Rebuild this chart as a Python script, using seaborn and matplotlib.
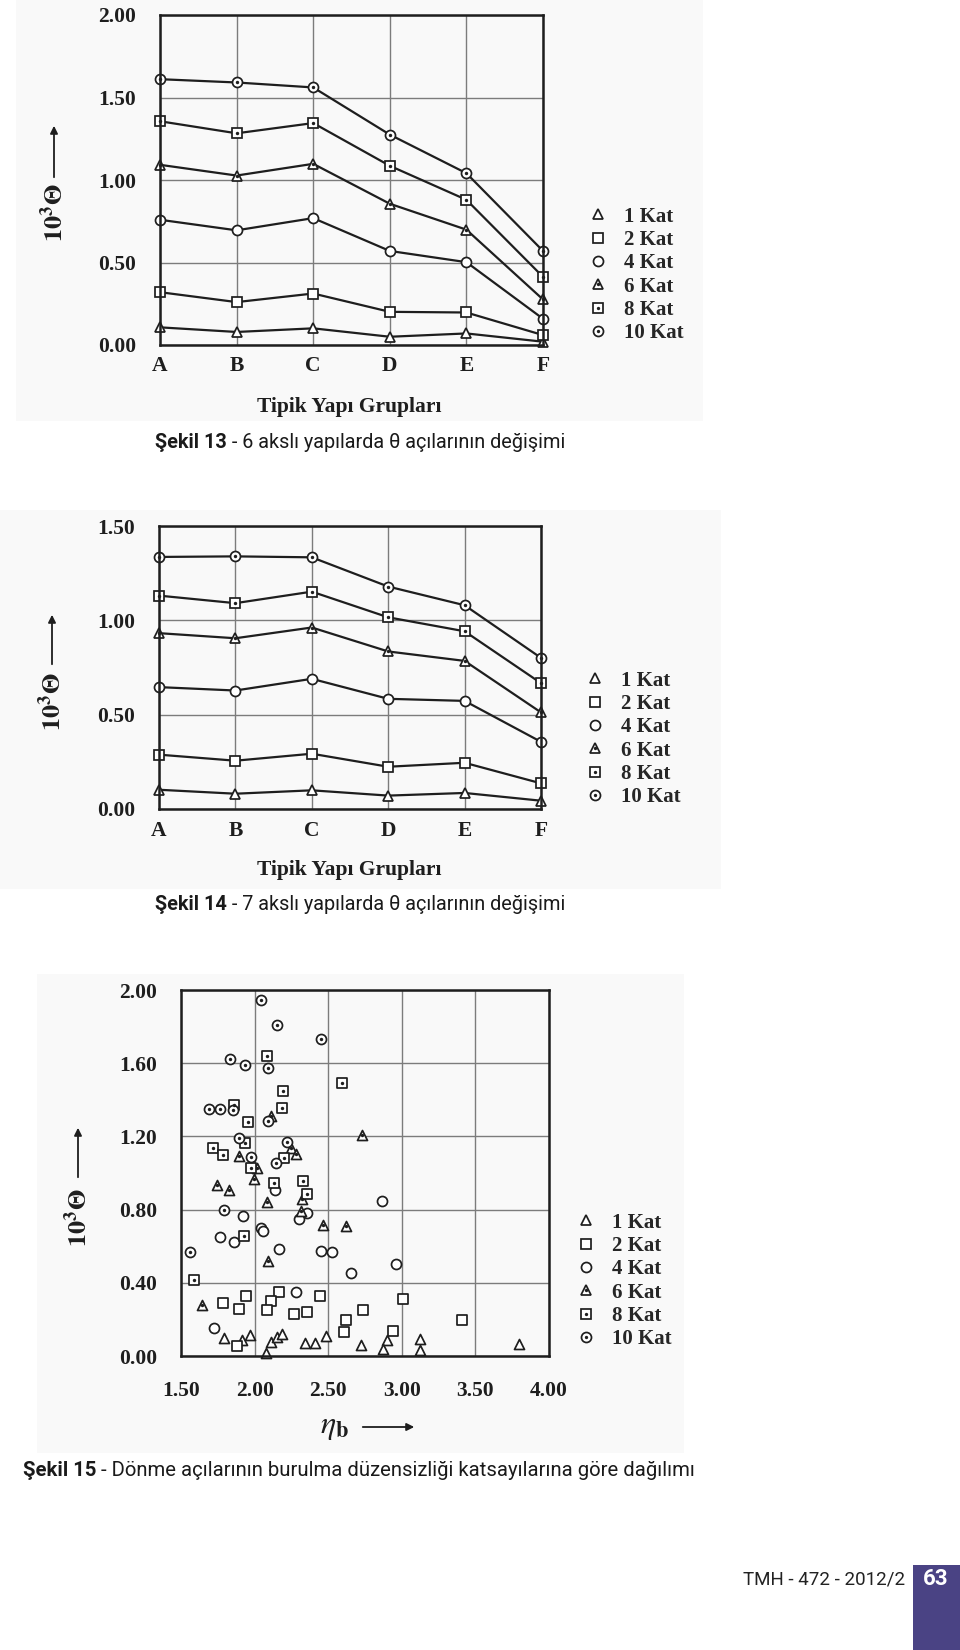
import numpy as np
import pandas as pd
import matplotlib
matplotlib.use("Agg")
import matplotlib.pyplot as plt
from matplotlib.lines import Line2D
from matplotlib.patches import Rectangle, FancyArrowPatch
from matplotlib.legend_handler import HandlerTuple
import seaborn as sns

# ---------------- data ----------------
groups = ["A", "B", "C", "D", "E", "F"]
kat_labels = ["1 Kat", "2 Kat", "4 Kat", "6 Kat", "8 Kat", "10 Kat"]

# Sekil 13 (6 aksli)
f13_1 = [0.107, 0.079, 0.101, 0.050, 0.070, 0.020]
f13_2 = [0.320, 0.260, 0.312, 0.201, 0.197, 0.060]
f13_4 = [0.759, 0.695, 0.769, 0.570, 0.502, 0.159]
f13_6 = [1.092, 1.027, 1.098, 0.856, 0.699, 0.276]
f13_8 = [1.356, 1.283, 1.345, 1.086, 0.880, 0.413]
f13_10 = [1.611, 1.591, 1.561, 1.275, 1.041, 0.570]

# Sekil 14 (7 aksli)
f14_1 = [0.102, 0.081, 0.099, 0.071, 0.085, 0.044]
f14_2 = [0.288, 0.256, 0.293, 0.224, 0.245, 0.136]
f14_4 = [0.646, 0.628, 0.690, 0.584, 0.573, 0.356]
f14_6 = [0.932, 0.905, 0.962, 0.835, 0.785, 0.512]
f14_8 = [1.131, 1.091, 1.152, 1.016, 0.942, 0.667]
f14_10 = [1.336, 1.339, 1.334, 1.179, 1.080, 0.801]

# Sekil 15 scatter (eta_b, 10^3 theta)
eta_1 = [1.795, 1.916, 1.966, 2.075, 2.114, 2.154, 2.188, 2.341, 2.413, 2.488, 2.720, 2.897, 2.875, 3.125, 3.125, 3.795]
th_1 = [0.100, 0.090, 0.117, 0.016, 0.077, 0.104, 0.119, 0.073, 0.073, 0.108, 0.059, 0.086, 0.040, 0.095, 0.031, 0.064]

eta_2 = [2.166, 1.943, 2.443, 2.109, 1.784, 1.893, 2.086, 2.359, 2.268, 2.739, 2.618, 2.609, 1.880, 3.011, 3.409, 2.938]
th_2 = [0.350, 0.327, 0.327, 0.301, 0.292, 0.259, 0.254, 0.241, 0.228, 0.250, 0.199, 0.131, 0.053, 0.314, 0.199, 0.135]

eta_4 = [2.140, 1.921, 2.357, 2.300, 2.041, 2.057, 1.766, 1.857, 2.166, 2.454, 2.523, 2.652, 2.284, 1.727, 2.868, 2.961]
th_4 = [0.906, 0.764, 0.779, 0.748, 0.702, 0.682, 0.651, 0.624, 0.582, 0.574, 0.569, 0.451, 0.347, 0.153, 0.848, 0.501]

eta_6 = [2.730, 2.110, 2.245, 2.279, 1.891, 2.018, 1.995, 1.743, 1.829, 2.323, 2.084, 2.318, 2.466, 2.618, 2.091, 1.643]
th_6 = [1.210, 1.310, 1.134, 1.103, 1.095, 1.025, 0.968, 0.932, 0.906, 0.857, 0.839, 0.791, 0.715, 0.708, 0.518, 0.277]

eta_8 = [2.084, 2.595, 2.190, 1.862, 2.184, 1.952, 1.936, 1.716, 1.784, 2.203, 1.977, 2.330, 2.134, 2.358, 1.925, 1.591]
th_8 = [1.641, 1.493, 1.446, 1.371, 1.355, 1.280, 1.163, 1.138, 1.100, 1.084, 1.025, 0.956, 0.945, 0.884, 0.656, 0.414]

eta_10 = [2.045, 2.154, 2.450, 1.836, 1.932, 2.091, 1.693, 1.766, 1.852, 2.088, 1.892, 2.219, 1.977, 2.143, 1.793, 1.562]
th_10 = [1.945, 1.809, 1.730, 1.621, 1.592, 1.572, 1.349, 1.349, 1.342, 1.284, 1.189, 1.172, 1.086, 1.052, 0.800, 0.571]

yticks_13 = [0.0, 0.5, 1.0, 1.5, 2.0]
yticks_14 = [0.0, 0.5, 1.0, 1.5]
xticks_15 = [1.5, 2.0, 2.5, 3.0, 3.5, 4.0]
yticks_15 = [0.0, 0.4, 0.8, 1.2, 1.6, 2.0]

caption_13 = ("Şekil 13", " - 6 akslı yapılarda θ açılarının değişimi")
caption_14 = ("Şekil 14", " - 7 akslı yapılarda θ açılarının değişimi")
caption_15 = ("Şekil 15", " - Dönme açılarının burulma düzensizliği katsayılarına göre dağılımı")
xlabel_groups = "Tipik Yapı Grupları"
footer_text = "TMH - 472 - 2012/2"
page_no = "63"

# ---------------- style ----------------
sns.set_theme(style="white")
plt.rcParams["font.family"] = ["Liberation Serif", "DejaVu Serif"]
plt.rcParams["mathtext.fontset"] = "stix"

W, H = 960, 1650
fig = plt.figure(figsize=(W / 100, H / 100), dpi=100)
fig.patch.set_facecolor("white")

INK = "#1e1e1e"
GRID = "#7c7c7c"
PANEL = "#f9f9f9"
SANS = ["Roboto", "DejaVu Sans"]
marker_of = {"1 Kat": "^", "2 Kat": "s", "4 Kat": "o",
             "6 Kat": "^", "8 Kat": "s", "10 Kat": "o"}
dotted = {"6 Kat", "8 Kat", "10 Kat"}
MS = 7.2
MEW = 1.25
DOT_S = 6
TICK_FS = 15.5
LEG_FS = 15


def fx(x):
    return x / W


def fy(y):
    return 1 - y / H


def add_box(x0, y0, x1, y1, color):
    fig.patches.append(Rectangle((fx(x0), fy(y1)), fx(x1) - fx(x0), fy(y0) - fy(y1),
                                 transform=fig.transFigure, facecolor=color,
                                 edgecolor="none", zorder=-10))


def make_ax(left, top, right, bottom):
    ax = fig.add_axes([fx(left), fy(bottom), fx(right) - fx(left), fy(top) - fy(bottom)])
    ax.set_facecolor("none")
    return ax


def style_axes(ax, xpad, ypad):
    for s in ax.spines.values():
        s.set_visible(True)
        s.set_color(INK)
        s.set_linewidth(1.8)
        s.set_zorder(6)
    ax.grid(True, color=GRID, linewidth=1.0)
    ax.set_axisbelow(True)
    ax.tick_params(length=0, labelsize=TICK_FS, colors=INK)
    ax.tick_params(axis="x", pad=xpad)
    ax.tick_params(axis="y", pad=ypad)
    ax.set_xlabel("")
    ax.set_ylabel("")


def legend_handles():
    hs = []
    for k in kat_labels:
        base = Line2D([], [], ls="none", marker=marker_of[k], ms=MS, mfc="white", mec=INK, mew=MEW)
        if k in dotted:
            dot = Line2D([], [], ls="none", marker="o", ms=2.4, mfc=INK, mec=INK, mew=0)
            hs.append((base, dot))
        else:
            hs.append(base)
    return hs


def add_legend(ax, x, y):
    ax.legend(legend_handles(), kat_labels,
              handler_map={tuple: HandlerTuple(ndivide=1, pad=0)},
              loc="center left", bbox_to_anchor=(x, y), frameon=False,
              handlelength=1.0, handletextpad=0.75, labelspacing=0.16,
              borderpad=0, borderaxespad=0,
              prop={"weight": "bold", "size": LEG_FS, "family": "Liberation Serif"})


def ylabel_arrow(xc, tip_y, base_y, label_y):
    fig.text(fx(xc), fy(label_y), r"$\mathbf{10^3\Theta}$", rotation=90,
             ha="center", va="center", fontsize=19, color=INK)
    fig.add_artist(FancyArrowPatch(posA=(fx(xc), fy(base_y)), posB=(fx(xc), fy(tip_y)),
                                   transform=fig.transFigure, arrowstyle="-|>",
                                   mutation_scale=11, color=INK, lw=1.3))


def caption(ax, x_left, y_center, parts, size):
    t1 = fig.text(fx(x_left), fy(y_center), parts[0], fontsize=size, fontweight="bold",
                  family=SANS, ha="left", va="center", color="#1a1a1a")
    ax.annotate(parts[1], xy=(1, 0), xycoords=t1, ha="left", va="bottom",
                fontsize=size, family=SANS, color="#1a1a1a", annotation_clip=False)


def line_chart(ax, series, ymax, yticks):
    df = pd.DataFrame({
        "grup": np.tile(groups, len(kat_labels)),
        "kat": np.repeat(kat_labels, len(groups)),
        "theta": np.concatenate([np.asarray(s, float) for s in series]),
    })
    for k in kat_labels:
        sub = df[df["kat"] == k]
        sns.lineplot(data=sub, x="grup", y="theta", ax=ax, color=INK, lw=1.6,
                     marker=marker_of[k], ms=MS, mfc="white", mec=INK, mew=MEW,
                     clip_on=False, zorder=3, sort=False, legend=False)
        if k in dotted:
            sns.scatterplot(data=sub, x="grup", y="theta", ax=ax, color=INK, s=DOT_S,
                            marker="o", linewidth=0, zorder=4, clip_on=False, legend=False)
    ax.set_xlim(0, len(groups) - 1)
    ax.set_ylim(0, ymax)
    ax.set_xticks(range(len(groups)), groups, fontweight="bold")
    ax.set_yticks(yticks, [f"{v:.2f}" for v in yticks], fontweight="bold")


# ---------------- background panels ----------------
add_box(16, 0, 703, 421, PANEL)
add_box(0, 510, 721, 889, PANEL)
add_box(37, 974, 684, 1453, PANEL)

# ---------------- Sekil 13 ----------------
ax1 = make_ax(160, 15, 543, 345)
line_chart(ax1, [f13_1, f13_2, f13_4, f13_6, f13_8, f13_10], 2.0, yticks_13)
style_axes(ax1, xpad=8, ypad=17)
add_legend(ax1, (588 - 160) / 383, (345 - 275) / 330)
ylabel_arrow(54, 123, 180, 213)
fig.text(fx(349), fy(407), xlabel_groups, ha="center", va="center", fontsize=15.5,
         fontweight="bold", color=INK)
caption(ax1, 155, 443, caption_13, 14.3)

# ---------------- Sekil 14 ----------------
ax2 = make_ax(159, 526, 541, 809)
line_chart(ax2, [f14_1, f14_2, f14_4, f14_6, f14_8, f14_10], 1.5, yticks_14)
style_axes(ax2, xpad=9, ypad=17)
add_legend(ax2, (585 - 159) / 382, (809 - 739) / 283)
ylabel_arrow(52, 612, 667, 702)
fig.text(fx(349), fy(870), xlabel_groups, ha="center", va="center", fontsize=15.5,
         fontweight="bold", color=INK)
caption(ax2, 155, 905, caption_14, 14.3)

# ---------------- Sekil 15 ----------------
ax3 = make_ax(181, 990, 549, 1356)
scatter_sets = {"1 Kat": (eta_1, th_1), "2 Kat": (eta_2, th_2), "4 Kat": (eta_4, th_4),
                "6 Kat": (eta_6, th_6), "8 Kat": (eta_8, th_8), "10 Kat": (eta_10, th_10)}
for k in kat_labels:
    e, t = scatter_sets[k]
    d = pd.DataFrame({"eta": e, "theta": t})
    sns.scatterplot(data=d, x="eta", y="theta", ax=ax3, marker=marker_of[k], s=MS ** 2,
                    color="white", edgecolor=INK, linewidth=MEW, zorder=3,
                    clip_on=False, legend=False)
    if k in dotted:
        sns.scatterplot(data=d, x="eta", y="theta", ax=ax3, marker="o", s=DOT_S,
                        color=INK, linewidth=0, zorder=4, clip_on=False, legend=False)
ax3.set_xlim(1.5, 4.0)
ax3.set_ylim(0, 2.0)
ax3.set_xticks(xticks_15, [f"{v:.2f}" for v in xticks_15], fontweight="bold")
ax3.set_yticks(yticks_15, [f"{v:.2f}" for v in yticks_15], fontweight="bold")
style_axes(ax3, xpad=18, ypad=17)
add_legend(ax3, (576 - 181) / 368, (1356 - 1281) / 366)
ylabel_arrow(78, 1125, 1180, 1218)
fig.text(fx(334), fy(1428), r"$\eta_{\mathbf{b}}$", ha="center", va="center",
         fontsize=23, color=INK)
fig.add_artist(FancyArrowPatch(posA=(fx(360), fy(1427)), posB=(fx(417), fy(1427)),
                               transform=fig.transFigure, arrowstyle="-|>",
                               mutation_scale=11, color=INK, lw=1.3))
caption(ax3, 23, 1471, caption_15, 14.6)

# ---------------- page footer ----------------
fig.text(fx(905), fy(1579), footer_text, ha="right", va="center", fontsize=13.5,
         family=SANS, color="#222222")
add_box(913, 1565, 960, 1650, "#4a4384")
fig.text(fx(935.5), fy(1579), page_no, ha="center", va="center", fontsize=16,
         fontweight="bold", family=SANS, color="white")

fig.savefig("out.png", dpi=100, facecolor=fig.get_facecolor())
